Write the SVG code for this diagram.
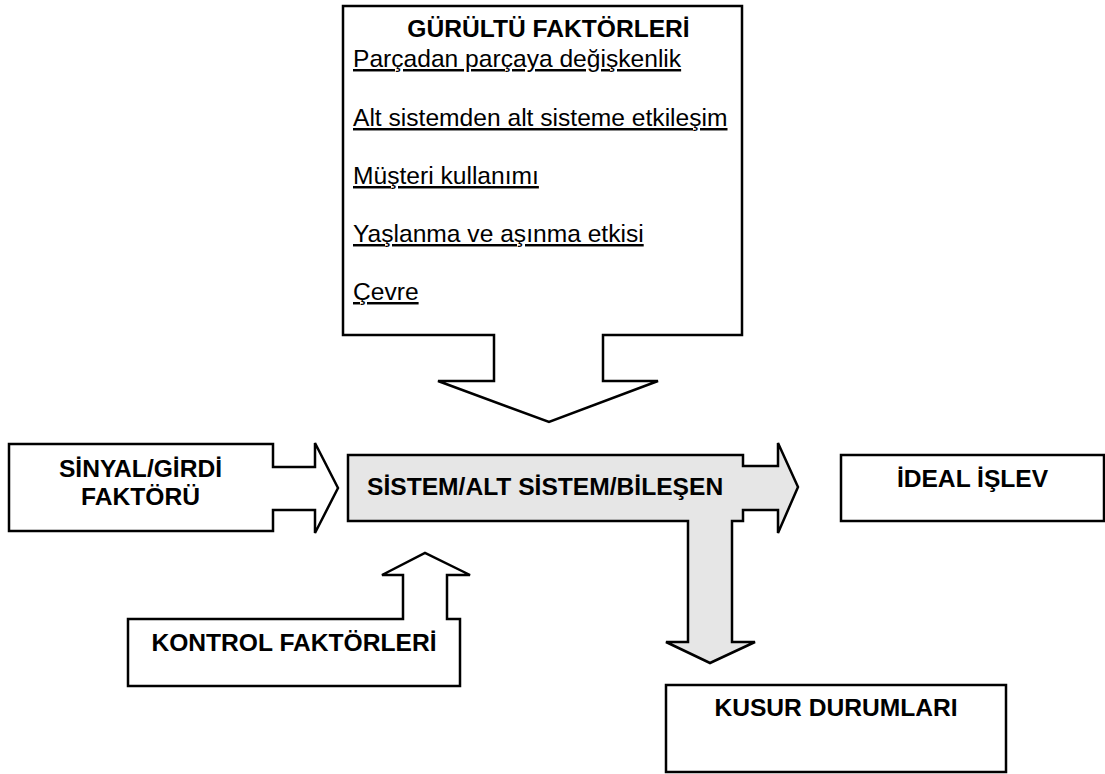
<svg xmlns="http://www.w3.org/2000/svg" width="1105" height="774" viewBox="0 0 1105 774">
  <style>
    .shape { fill: #ffffff; stroke: #000000; stroke-width: 2.5; stroke-linejoin: miter; }
    .grey { fill: #e6e6e6; }
    .t { font-family: "Liberation Sans", Arial, sans-serif; font-size: 24.6px; fill: #000000; }
    .b { font-weight: bold; }
    .c { text-anchor: middle; }
    .u { text-decoration: underline; }
  </style>
  <rect width="1105" height="774" fill="#ffffff"/>

  <!-- Noise factors: box with a block arrow pointing down into the system -->
  <g id="noise-factors">
    <polygon class="shape" points="343,6 742,6 742,335 603,335 603,381 658,381 549,422 438,381 494,381 494,335 343,335"/>
    <text class="t b c" x="548.5" y="37">GÜRÜLTÜ FAKTÖRLERİ</text>
    <text class="t u" x="353" y="67">Parçadan parçaya değişkenlik</text>
    <text class="t u" x="353" y="126">Alt sistemden alt sisteme etkileşim</text>
    <text class="t u" x="353" y="184">Müşteri kullanımı</text>
    <text class="t u" x="353" y="242">Yaşlanma ve aşınma etkisi</text>
    <text class="t u" x="353" y="300">Çevre</text>
  </g>

  <!-- Signal / input factor with a block arrow to the right -->
  <g id="signal-input">
    <polygon class="shape" points="9,444 273,444 273,467 315,467 315,443 338,488 315,533 315,510 273,510 273,531 9,531"/>
    <text class="t b c" x="140.5" y="477">SİNYAL/GİRDİ</text>
    <text class="t b c" x="140.5" y="505">FAKTÖRÜ</text>
  </g>

  <!-- Control factors with a block arrow pointing up -->
  <g id="control-factors">
    <polygon class="shape" points="128,619 403,619 403,575 382,575 425,553 470,575 447,575 447,619 460,619 460,686 128,686"/>
    <text class="t b c" x="294" y="651">KONTROL FAKTÖRLERİ</text>
  </g>

  <!-- System block with its output arrows (right and down) as one outline -->
  <g id="system">
    <polygon class="shape grey" points="348,455 743,455 743,466 778,466 778,443 798,487 778,533 778,510 743,510 743,521 732,521 732,642 755,642 710,663 666,642 688,642 688,521 348,521"/>
    <text class="t b" x="367" y="495">SİSTEM/ALT SİSTEM/BİLEŞEN</text>
  </g>

  <g id="ideal-function">
    <rect class="shape" x="841" y="455" width="263" height="66"/>
    <text class="t b c" x="972.5" y="487">İDEAL İŞLEV</text>
  </g>

  <g id="failure-modes">
    <rect class="shape" x="666" y="685" width="340" height="87"/>
    <text class="t b c" x="836" y="716">KUSUR DURUMLARI</text>
  </g>

  <!-- Block arrows are drawn as part of the outlines above -->
  <g id="connectors"/>
</svg>
